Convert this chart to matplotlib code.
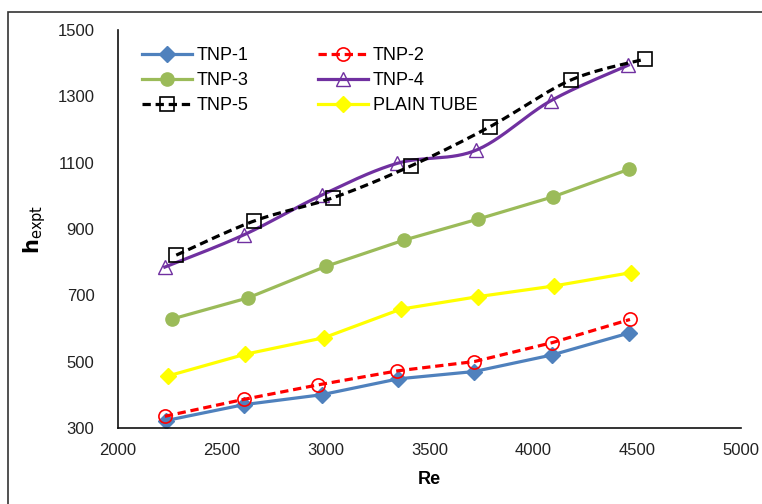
import matplotlib
matplotlib.use('Agg')
import matplotlib.pyplot as plt
import numpy as np
from matplotlib.patches import Rectangle

plt.rcParams['font.family'] = ['Liberation Sans', 'DejaVu Sans']

# Reynolds numbers and measured h for each tube
re_1 = [2230, 2605, 2980, 3350, 3715, 4090, 4460]
h_1 = [322, 370, 400, 448, 470, 520, 586]
re_2 = [2225, 2605, 2965, 3345, 3715, 4090, 4465]
h_2 = [335, 386, 430, 472, 500, 557, 627]
re_3 = [2258, 2625, 3000, 3375, 3735, 4095, 4460]
h_3 = [628, 692, 787, 866, 930, 997, 1080]
re_4 = [2225, 2605, 2980, 3345, 3722, 4085, 4457]
h_4 = [785, 882, 1002, 1098, 1137, 1287, 1394]
re_5 = [2280, 2655, 3035, 3410, 3790, 4180, 4537]
h_5 = [821, 924, 994, 1090, 1208, 1349, 1412]
re_plain = [2242, 2611, 2992, 3361, 3735, 4099, 4468]
h_plain = [457, 522, 572, 658, 696, 728, 768]

x_ticks = [2000, 2500, 3000, 3500, 4000, 4500, 5000]
y_ticks = [300, 500, 700, 900, 1100, 1300, 1500]


def smooth(x, y, n=30):
    # excel style smoothed line: cubic bezier through every point
    p = np.column_stack([x, y]).astype(float)
    pp = np.vstack([p[0], p, p[-1]])
    out = []
    for i in range(len(p) - 1):
        a, b = pp[i + 1], pp[i + 2]
        c1 = a + (pp[i + 2] - pp[i]) / 6
        c2 = b - (pp[i + 3] - pp[i + 1]) / 6
        t = np.linspace(0, 1, n, endpoint=False)[:, None]
        seg = ((1 - t) ** 3) * a + 3 * ((1 - t) ** 2) * t * c1 + 3 * (1 - t) * t ** 2 * c2 + t ** 3 * b
        out.append(seg)
    out.append(p[-1:])
    s = np.vstack(out)
    return s[:, 0], s[:, 1], list(range(0, len(s), n))


fig = plt.figure(figsize=(7.62, 5.04), dpi=100)
ax = fig.add_axes([0.155, 0.151, 0.8175, 0.7895])

lw = 2.3
dash = (0, (2.6, 1.5))
ax.plot(re_1, h_1, color='#4F81BD', lw=lw, marker='D', ms=8, label='TNP-1')
ax.plot(re_2, h_2, color='#FF0000', lw=lw, ls=dash, marker='o', ms=9.5,
        mfc='none', mew=1.2, label='TNP-2')
ax.plot(re_3, h_3, color='#9BBB59', lw=lw, marker='o', ms=9.5, label='TNP-3')
sx, sy, idx = smooth(re_4, h_4)
ax.plot(sx, sy, color='#7030A0', lw=lw, marker='^', ms=9.5, mfc='none', mew=1.0,
        markevery=idx, label='TNP-4')
sx, sy, idx = smooth(re_5, h_5)
ax.plot(sx, sy, color='black', lw=lw, ls=dash, marker='s', ms=9.5, mfc='none',
        mew=1.2, markevery=idx, label='TNP-5')
ax.plot(re_plain, h_plain, color='#FFFF00', lw=lw, marker='D', ms=8, label='PLAIN TUBE')

ax.set_xlim(2000, 5000)
ax.set_ylim(300, 1500)
ax.set_xticks(x_ticks)
ax.set_yticks(y_ticks)
ax.tick_params(length=0, labelsize=12, colors='#222222')
ax.tick_params(axis='x', pad=11)
ax.tick_params(axis='y', pad=17)
for s in ['top', 'right']:
    ax.spines[s].set_visible(False)
for s in ['left', 'bottom']:
    ax.spines[s].set_color('#111111')
    ax.spines[s].set_linewidth(1.2)

ax.set_xlabel('Re', fontsize=13, fontweight='bold', labelpad=9)
ax.set_ylabel(r'$\mathbf{h}_{\mathrm{expt}}$', fontsize=15, labelpad=7)

# legend is filled row by row in the reference
handles, labels = ax.get_legend_handles_labels()
order = [0, 2, 4, 1, 3, 5]
ax.legend([handles[i] for i in order], [labels[i] for i in order], ncol=2,
          frameon=False, fontsize=13, loc='upper left',
          bbox_to_anchor=(133 / 762, 1 - 38 / 504), bbox_transform=fig.transFigure,
          borderpad=0, handlelength=2.75, handletextpad=0.25, columnspacing=3.9,
          labelspacing=0.45)

# outer chart border
fig.patches.append(Rectangle((8 / 762, -0.1), 1.2, 1.1 - 12 / 504,
                             transform=fig.transFigure, fill=False,
                             edgecolor='#333333', lw=1.2))

fig.savefig('out.png', dpi=100)
